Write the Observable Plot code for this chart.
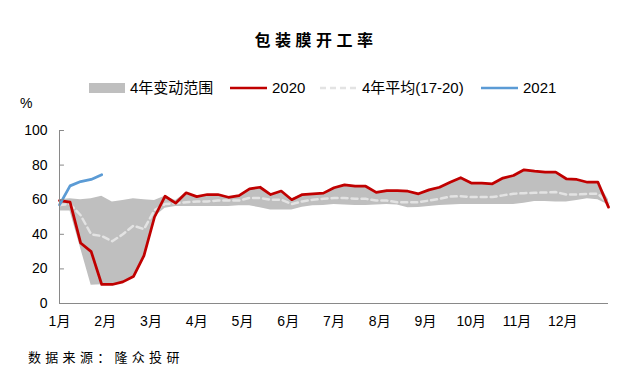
<!DOCTYPE html>
<html>
<head>
<meta charset="utf-8">
<script src="https://cdn.jsdelivr.net/npm/d3@7"></script>
<script src="https://cdn.jsdelivr.net/npm/@observablehq/plot@0.6"></script>
<style>
  html, body { margin: 0; padding: 0; background: #fff; }
  #wrap { position: relative; width: 632px; height: 391px; overflow: hidden;
          font-family: "Liberation Sans", "Noto Sans CJK SC", sans-serif; color: #000; }
  #title { position: absolute; left: 0; width: 632px; top: 28px; text-align: center;
           font-family: "Noto Sans CJK SC", sans-serif; font-weight: bold; font-size: 16px;
           letter-spacing: 4.5px; line-height: 22px; }
  .leg { position: absolute; top: 79px; font-size: 15px; line-height: 18px; white-space: nowrap; }
  #pct { position: absolute; left: 20px; top: 95px; font-size: 14px; }
  #chart { position: absolute; left: 0; top: 95px; }
  #src { position: absolute; left: 28px; top: 348px; font-family: "Noto Sans CJK SC", sans-serif;
         font-size: 13px; letter-spacing: 4.3px; line-height: 18px; }
</style>
</head>
<body>
<div id="wrap">
  <div id="title">包装膜开工率</div>
  <div id="legend"></div>
  <div id="pct">%</div>
  <div id="chart"></div>
  <div id="src">数据来源：隆众投研</div>
</div>
<script>
// Weekly index 0..52 across the year
const monthLabels = ["1月","2月","3月","4月","5月","6月","7月","8月","9月","10月","11月","12月"];
const yTicks = [0, 20, 40, 60, 80, 100];

const series2020 = [59.5,58.6,35,30,11,11,12.5,15.6,27.7,50,62,58,64,61.8,63,63,61.4,62.4,66.3,67.2,
  63,65,60,63,63.4,63.8,66.9,68.6,67.8,67.8,64.2,65.3,65.3,64.9,63.4,65.7,67.2,70.1,72.7,69.6,
  69.6,69.2,72.5,74,77.3,76.5,75.9,75.9,72.1,71.7,70.1,70.1,55.7];
const avg4y = [57,57.5,51,40,39,36,40,45,43,54,57.5,58,58.5,59,59,59.5,59.5,59.5,61,61,
  60,60,57.5,59,60,60.5,61,61,60.5,60.5,59.5,59.5,58.5,58.5,58.5,59.5,60.5,61.8,62,61.5,
  61.5,61.5,62.5,63.4,63.8,64,64.2,64.4,63,63,63.4,63.4,58];
const rangeMin = [53.5,53.5,32,10.5,10.8,10.8,12.5,15.6,27.7,50,55,56,56,56,56,56,56,56.5,56.5,55.3,
  54,54,54,55.7,56.5,56.6,57.2,57,56.6,56.6,57,57.2,57,55.3,55.5,56,56.6,57,57.2,57.2,
  57.2,57.2,57.2,57.2,58,59,59,58.6,58.6,59.5,60.5,60,57];
const rangeMax = [60,60.5,60,60.5,62,58.6,59.5,60.5,60,59.5,62,59.5,64,61.8,63,63,61.4,62.4,66.3,67.2,
  63,65,60.5,63,63.4,63.8,66.9,68.6,67.8,67.8,64.2,65.3,65.3,64.9,63.4,65.7,67.2,70.1,72.7,69.6,
  69.6,69.2,72.5,74,77.3,76.5,75.9,75.9,72.1,71.7,70.1,70.1,60];
const series2021 = [57,68,70.5,71.7,74.4];

const weeks = series2020.map((_, i) => i);
const band = weeks.map(i => ({w: i, lo: rangeMin[i], hi: rangeMax[i]}));
const d2020 = weeks.map(i => ({w: i, v: series2020[i]}));
const dAvg = weeks.map(i => ({w: i, v: avg4y[i]}));
const d2021 = series2021.map((v, i) => ({w: i, v}));
const monthPos = monthLabels.map((_, i) => i * 52 / 12);

const axisColor = "#898989";
const chart = Plot.plot({
  width: 632,
  height: 250,
  marginLeft: 59,
  marginRight: 24,
  marginTop: 35,
  marginBottom: 42,
  style: {fontFamily: "'Liberation Sans', 'Noto Sans CJK SC', sans-serif", fontSize: "14px", color: "#000", background: "transparent"},
  x: {domain: [0, 52], axis: null},
  y: {domain: [0, 100], axis: null},
  marks: [
    Plot.areaY(band, {x: "w", y1: "lo", y2: "hi", fill: "#bfbfbf"}),
    Plot.line(dAvg, {x: "w", y: "v", stroke: "#e3e3e3", strokeWidth: 2.5, strokeDasharray: "6,4"}),
    Plot.line(d2020, {x: "w", y: "v", stroke: "#c00000", strokeWidth: 2.75}),
    Plot.line(d2021, {x: "w", y: "v", stroke: "#5b9bd5", strokeWidth: 2.75}),
    Plot.ruleX([0], {y1: 0, y2: 100, stroke: axisColor, strokeWidth: 1}),
    Plot.ruleY([0], {x1: 0, x2: 52, stroke: axisColor, strokeWidth: 1}),
    Plot.ruleY(yTicks, {x1: 0, x2: 0.47, stroke: axisColor, strokeWidth: 1}),
    Plot.axisY(yTicks, {tickSize: 0, tickPadding: 12, fontSize: 14, label: null, fill: "#000"}),
    Plot.axisX(monthPos, {tickSize: 0, tickPadding: 13, fontSize: 14, label: null, fill: "#000",
      tickFormat: (d, i) => monthLabels[i]})
  ]
});
document.getElementById("chart").appendChild(chart);

// Legend
const legendItems = [
  {label: "4年变动范围", kind: "rect", color: "#bfbfbf", x: 89},
  {label: "2020", kind: "line", color: "#c00000", x: 230},
  {label: "4年平均(17-20)", kind: "dash", color: "#e3e3e3", x: 320},
  {label: "2021", kind: "line", color: "#5b9bd5", x: 481}
];
const legend = document.getElementById("legend");
for (const it of legendItems) {
  const div = document.createElement("div");
  div.className = "leg";
  div.style.left = it.x + "px";
  let sw;
  if (it.kind === "rect") sw = `<svg width="36" height="12" style="vertical-align:-1px"><rect x="0" y="1" width="36" height="10" fill="${it.color}"/></svg>`;
  else if (it.kind === "dash") sw = `<svg width="37" height="12" style="vertical-align:-1px"><line x1="0" x2="37" y1="6" y2="6" stroke="${it.color}" stroke-width="2.5" stroke-dasharray="6,4"/></svg>`;
  else sw = `<svg width="37" height="12" style="vertical-align:-1px"><line x1="0" x2="37" y1="6" y2="6" stroke="${it.color}" stroke-width="2.5"/></svg>`;
  div.innerHTML = sw + `<span style="margin-left:5px">${it.label}</span>`;
  legend.appendChild(div);
}
</script>
</body>
</html>
